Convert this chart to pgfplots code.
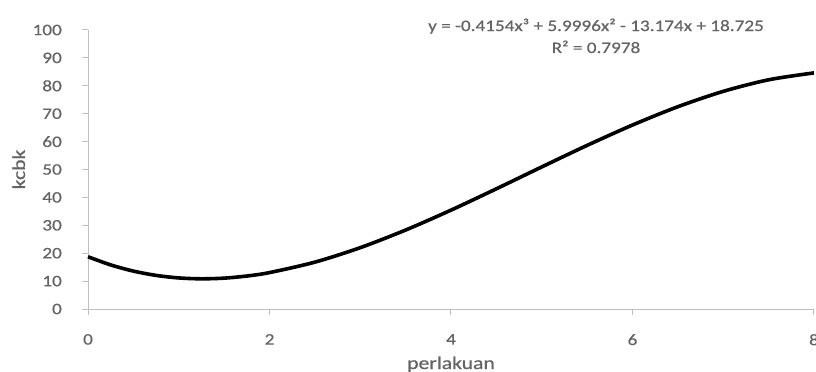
\documentclass[border=0pt]{standalone}
\usepackage{fontspec}
\setmainfont{Carlito}[FakeStretch=1.2, FakeBold=0.6]
\usepackage{pgfplots}
\pgfplotsset{compat=1.18}
\definecolor{txtgray}{RGB}{100,100,100}
\definecolor{axgray}{RGB}{191,191,191}
\begin{document}
\begin{tikzpicture}
\useasboundingbox (0,0) rectangle (816bp,372bp);
\begin{axis}[
  at={(88bp,63bp)}, anchor=south west,
  width=726bp, height=279bp, scale only axis,
  xmin=0, xmax=8, ymin=0, ymax=100,
  xtick={0,2,4,6,8}, ytick={0,10,...,100},
  axis x line*=bottom, axis y line*=left,
  axis line style={draw=axgray, line width=1bp, -},
  tick style={draw=axgray, line width=1bp},
  tick align=outside,
  major tick length=6bp,
  /pgf/number format/assume math mode=true,
  xticklabel style={font=\fontsize{16bp}{19bp}\selectfont, text=txtgray, anchor=north, inner sep=0pt, yshift=-19bp},
  yticklabel style={font=\fontsize{16bp}{19bp}\selectfont, text=txtgray, anchor=east, inner sep=0pt, xshift=-20bp},
  xlabel={perlakuan}, ylabel={kcbk},
  xlabel style={font=\fontsize{18bp}{21bp}\selectfont, text=txtgray, at={(axis description cs:0.5,0)}, anchor=base, yshift=-60bp},
  ylabel style={font=\fontsize{18bp}{21bp}\selectfont, text=txtgray, at={(axis description cs:-0.0868,0.5)}, anchor=base},
  clip=false,
]
\addplot[black, line width=3.6bp, smooth] coordinates {
(0,18.725) (0.25,15.800) (0.5,13.586) (0.75,12.044) (1,11.135) (1.25,10.821)
(1.5,11.061) (1.75,11.818) (2,13.052) (2.5,16.797) (3,21.984) (3.5,28.301)
(4,35.437) (4.5,43.081) (5,50.920) (5.5,58.644) (6,65.940) (6.5,72.498)
(7,78.005) (7.5,82.151) (8,84.623)
};
\node[font=\fontsize{16bp}{19bp}\selectfont, text=txtgray, anchor=base, inner sep=0pt] at (axis description cs:0.6997,0.9964) {y = -0.4154x³ + 5.9996x² - 13.174x + 18.725};
\node[font=\fontsize{16bp}{19bp}\selectfont, text=txtgray, anchor=base, inner sep=0pt] at (axis description cs:0.6997,0.9176) {R² = 0.7978};
\end{axis}
\end{tikzpicture}
\end{document}
